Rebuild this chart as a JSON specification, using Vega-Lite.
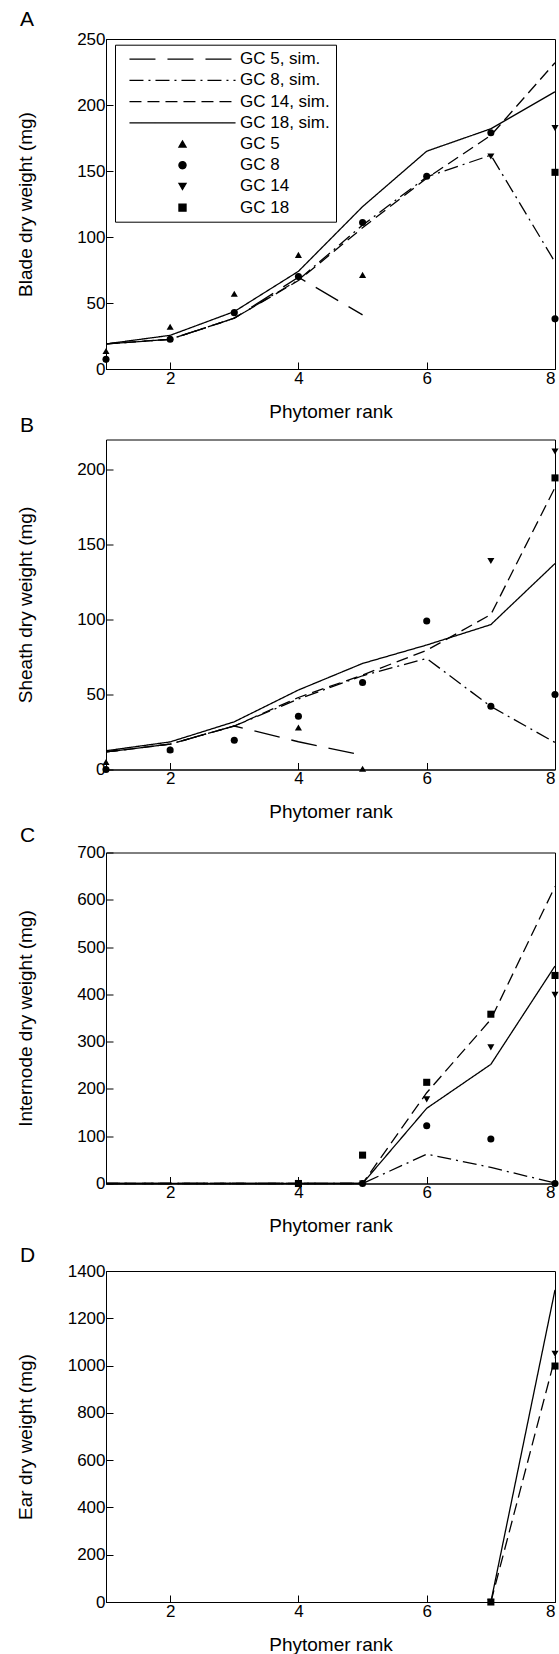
{
  "$schema": "https://vega.github.io/schema/vega-lite/v6.json",
  "padding": {"left": 15, "top": 8, "right": 0, "bottom": 0},
  "datasets": {
    "sim": [
      {"panel": "A", "series": "GC 5, sim.", "rank": 1, "weight": 19},
      {"panel": "A", "series": "GC 5, sim.", "rank": 2, "weight": 22.5},
      {"panel": "A", "series": "GC 5, sim.", "rank": 3, "weight": 38.5},
      {"panel": "A", "series": "GC 5, sim.", "rank": 4, "weight": 69.5},
      {"panel": "A", "series": "GC 5, sim.", "rank": 5, "weight": 41},
      {"panel": "A", "series": "GC 8, sim.", "rank": 1, "weight": 19},
      {"panel": "A", "series": "GC 8, sim.", "rank": 2, "weight": 22.5},
      {"panel": "A", "series": "GC 8, sim.", "rank": 3, "weight": 38.5},
      {"panel": "A", "series": "GC 8, sim.", "rank": 4, "weight": 67.5},
      {"panel": "A", "series": "GC 8, sim.", "rank": 5, "weight": 109},
      {"panel": "A", "series": "GC 8, sim.", "rank": 6, "weight": 145.5},
      {"panel": "A", "series": "GC 8, sim.", "rank": 7, "weight": 162},
      {"panel": "A", "series": "GC 8, sim.", "rank": 8, "weight": 81},
      {"panel": "A", "series": "GC 14, sim.", "rank": 1, "weight": 19},
      {"panel": "A", "series": "GC 14, sim.", "rank": 2, "weight": 22.5},
      {"panel": "A", "series": "GC 14, sim.", "rank": 3, "weight": 38.5},
      {"panel": "A", "series": "GC 14, sim.", "rank": 4, "weight": 67},
      {"panel": "A", "series": "GC 14, sim.", "rank": 5, "weight": 107},
      {"panel": "A", "series": "GC 14, sim.", "rank": 6, "weight": 144.5},
      {"panel": "A", "series": "GC 14, sim.", "rank": 7, "weight": 177},
      {"panel": "A", "series": "GC 14, sim.", "rank": 8, "weight": 232},
      {"panel": "A", "series": "GC 18, sim.", "rank": 1, "weight": 19},
      {"panel": "A", "series": "GC 18, sim.", "rank": 2, "weight": 25.5},
      {"panel": "A", "series": "GC 18, sim.", "rank": 3, "weight": 43.5},
      {"panel": "A", "series": "GC 18, sim.", "rank": 4, "weight": 74},
      {"panel": "A", "series": "GC 18, sim.", "rank": 5, "weight": 123},
      {"panel": "A", "series": "GC 18, sim.", "rank": 6, "weight": 165},
      {"panel": "A", "series": "GC 18, sim.", "rank": 7, "weight": 182},
      {"panel": "A", "series": "GC 18, sim.", "rank": 8, "weight": 210},
      {"panel": "B", "series": "GC 5, sim.", "rank": 1, "weight": 11.7},
      {"panel": "B", "series": "GC 5, sim.", "rank": 2, "weight": 16.9},
      {"panel": "B", "series": "GC 5, sim.", "rank": 3, "weight": 29},
      {"panel": "B", "series": "GC 5, sim.", "rank": 4, "weight": 18.5},
      {"panel": "B", "series": "GC 5, sim.", "rank": 5, "weight": 9.5},
      {"panel": "B", "series": "GC 8, sim.", "rank": 1, "weight": 11.7},
      {"panel": "B", "series": "GC 8, sim.", "rank": 2, "weight": 16.9},
      {"panel": "B", "series": "GC 8, sim.", "rank": 3, "weight": 29},
      {"panel": "B", "series": "GC 8, sim.", "rank": 4, "weight": 47},
      {"panel": "B", "series": "GC 8, sim.", "rank": 5, "weight": 62.5},
      {"panel": "B", "series": "GC 8, sim.", "rank": 6, "weight": 74},
      {"panel": "B", "series": "GC 8, sim.", "rank": 7, "weight": 42},
      {"panel": "B", "series": "GC 8, sim.", "rank": 8, "weight": 18},
      {"panel": "B", "series": "GC 14, sim.", "rank": 1, "weight": 11.7},
      {"panel": "B", "series": "GC 14, sim.", "rank": 2, "weight": 16.9},
      {"panel": "B", "series": "GC 14, sim.", "rank": 3, "weight": 29},
      {"panel": "B", "series": "GC 14, sim.", "rank": 4, "weight": 48},
      {"panel": "B", "series": "GC 14, sim.", "rank": 5, "weight": 63},
      {"panel": "B", "series": "GC 14, sim.", "rank": 6, "weight": 79.5},
      {"panel": "B", "series": "GC 14, sim.", "rank": 7, "weight": 103.3},
      {"panel": "B", "series": "GC 14, sim.", "rank": 8, "weight": 188},
      {"panel": "B", "series": "GC 18, sim.", "rank": 1, "weight": 12.5},
      {"panel": "B", "series": "GC 18, sim.", "rank": 2, "weight": 18.4},
      {"panel": "B", "series": "GC 18, sim.", "rank": 3, "weight": 31.8},
      {"panel": "B", "series": "GC 18, sim.", "rank": 4, "weight": 53},
      {"panel": "B", "series": "GC 18, sim.", "rank": 5, "weight": 70.7},
      {"panel": "B", "series": "GC 18, sim.", "rank": 6, "weight": 83},
      {"panel": "B", "series": "GC 18, sim.", "rank": 7, "weight": 96.6},
      {"panel": "B", "series": "GC 18, sim.", "rank": 8, "weight": 137.3},
      {"panel": "C", "series": "GC 5, sim.", "rank": 1, "weight": 0},
      {"panel": "C", "series": "GC 5, sim.", "rank": 2, "weight": 0},
      {"panel": "C", "series": "GC 5, sim.", "rank": 3, "weight": 0},
      {"panel": "C", "series": "GC 5, sim.", "rank": 4, "weight": 0},
      {"panel": "C", "series": "GC 5, sim.", "rank": 5, "weight": 0},
      {"panel": "C", "series": "GC 8, sim.", "rank": 1, "weight": 0},
      {"panel": "C", "series": "GC 8, sim.", "rank": 2, "weight": 0},
      {"panel": "C", "series": "GC 8, sim.", "rank": 3, "weight": 0},
      {"panel": "C", "series": "GC 8, sim.", "rank": 4, "weight": 0},
      {"panel": "C", "series": "GC 8, sim.", "rank": 5, "weight": 0},
      {"panel": "C", "series": "GC 8, sim.", "rank": 6, "weight": 62},
      {"panel": "C", "series": "GC 8, sim.", "rank": 7, "weight": 34},
      {"panel": "C", "series": "GC 8, sim.", "rank": 8, "weight": 1},
      {"panel": "C", "series": "GC 14, sim.", "rank": 1, "weight": 0},
      {"panel": "C", "series": "GC 14, sim.", "rank": 2, "weight": 0},
      {"panel": "C", "series": "GC 14, sim.", "rank": 3, "weight": 0},
      {"panel": "C", "series": "GC 14, sim.", "rank": 4, "weight": 0},
      {"panel": "C", "series": "GC 14, sim.", "rank": 5, "weight": 0},
      {"panel": "C", "series": "GC 14, sim.", "rank": 6, "weight": 192},
      {"panel": "C", "series": "GC 14, sim.", "rank": 7, "weight": 347},
      {"panel": "C", "series": "GC 14, sim.", "rank": 8, "weight": 628},
      {"panel": "C", "series": "GC 18, sim.", "rank": 1, "weight": 0},
      {"panel": "C", "series": "GC 18, sim.", "rank": 2, "weight": 0},
      {"panel": "C", "series": "GC 18, sim.", "rank": 3, "weight": 0},
      {"panel": "C", "series": "GC 18, sim.", "rank": 4, "weight": 0},
      {"panel": "C", "series": "GC 18, sim.", "rank": 5, "weight": 0},
      {"panel": "C", "series": "GC 18, sim.", "rank": 6, "weight": 159},
      {"panel": "C", "series": "GC 18, sim.", "rank": 7, "weight": 252},
      {"panel": "C", "series": "GC 18, sim.", "rank": 8, "weight": 460},
      {"panel": "D", "series": "GC 14, sim.", "rank": 7, "weight": 0},
      {"panel": "D", "series": "GC 14, sim.", "rank": 8, "weight": 1033},
      {"panel": "D", "series": "GC 18, sim.", "rank": 7, "weight": 0},
      {"panel": "D", "series": "GC 18, sim.", "rank": 8, "weight": 1320}
    ],
    "obs": [
      {"panel": "A", "series": "GC 5", "rank": 1, "weight": 13.6},
      {"panel": "A", "series": "GC 5", "rank": 2, "weight": 32},
      {"panel": "A", "series": "GC 5", "rank": 3, "weight": 57},
      {"panel": "A", "series": "GC 5", "rank": 4, "weight": 86.5},
      {"panel": "A", "series": "GC 5", "rank": 5, "weight": 71.3},
      {"panel": "A", "series": "GC 8", "rank": 1, "weight": 7.3},
      {"panel": "A", "series": "GC 8", "rank": 2, "weight": 22.5},
      {"panel": "A", "series": "GC 8", "rank": 3, "weight": 42.7},
      {"panel": "A", "series": "GC 8", "rank": 4, "weight": 70},
      {"panel": "A", "series": "GC 8", "rank": 5, "weight": 111},
      {"panel": "A", "series": "GC 8", "rank": 6, "weight": 146},
      {"panel": "A", "series": "GC 8", "rank": 7, "weight": 179},
      {"panel": "A", "series": "GC 8", "rank": 8, "weight": 38},
      {"panel": "A", "series": "GC 14", "rank": 7, "weight": 161},
      {"panel": "A", "series": "GC 14", "rank": 8, "weight": 182.5},
      {"panel": "A", "series": "GC 18", "rank": 8, "weight": 149},
      {"panel": "B", "series": "GC 5", "rank": 1, "weight": 5},
      {"panel": "B", "series": "GC 5", "rank": 2, "weight": 13.5},
      {"panel": "B", "series": "GC 5", "rank": 4, "weight": 28},
      {"panel": "B", "series": "GC 5", "rank": 5, "weight": 0.5},
      {"panel": "B", "series": "GC 8", "rank": 1, "weight": 0},
      {"panel": "B", "series": "GC 8", "rank": 2, "weight": 13},
      {"panel": "B", "series": "GC 8", "rank": 3, "weight": 19.5},
      {"panel": "B", "series": "GC 8", "rank": 4, "weight": 35.5},
      {"panel": "B", "series": "GC 8", "rank": 5, "weight": 58},
      {"panel": "B", "series": "GC 8", "rank": 6, "weight": 99},
      {"panel": "B", "series": "GC 8", "rank": 7, "weight": 42.2},
      {"panel": "B", "series": "GC 8", "rank": 8, "weight": 50},
      {"panel": "B", "series": "GC 14", "rank": 7, "weight": 139},
      {"panel": "B", "series": "GC 14", "rank": 8, "weight": 212},
      {"panel": "B", "series": "GC 18", "rank": 8, "weight": 194.4},
      {"panel": "C", "series": "GC 8", "rank": 5, "weight": 0},
      {"panel": "C", "series": "GC 8", "rank": 6, "weight": 122},
      {"panel": "C", "series": "GC 8", "rank": 7, "weight": 94},
      {"panel": "C", "series": "GC 8", "rank": 8, "weight": 0},
      {"panel": "C", "series": "GC 14", "rank": 5, "weight": 0},
      {"panel": "C", "series": "GC 14", "rank": 6, "weight": 178},
      {"panel": "C", "series": "GC 14", "rank": 7, "weight": 288},
      {"panel": "C", "series": "GC 14", "rank": 8, "weight": 399},
      {"panel": "C", "series": "GC 18", "rank": 4, "weight": 0},
      {"panel": "C", "series": "GC 18", "rank": 5, "weight": 60},
      {"panel": "C", "series": "GC 18", "rank": 6, "weight": 214},
      {"panel": "C", "series": "GC 18", "rank": 7, "weight": 358},
      {"panel": "C", "series": "GC 18", "rank": 8, "weight": 440},
      {"panel": "D", "series": "GC 14", "rank": 7, "weight": 0},
      {"panel": "D", "series": "GC 14", "rank": 8, "weight": 1050},
      {"panel": "D", "series": "GC 18", "rank": 7, "weight": 0},
      {"panel": "D", "series": "GC 18", "rank": 8, "weight": 998}
    ]
  },
  "resolve": {"scale": {"shape": "independent", "strokeDash": "independent"}, "legend": {"shape": "independent", "strokeDash": "independent"}},
  "spacing": 2.5,
  "vconcat": [
    {
      "resolve": {"scale": {"shape": "independent", "strokeDash": "independent"}, "legend": {"shape": "independent", "strokeDash": "independent"}},
      "spacing": -8.5,
      "vconcat": [
        {
          "title": {"text": "A", "offset": 0},
          "width": 449, "height": 330,
          "layer": [
            {
              "data": {"name": "sim"},
              "transform": [{"filter": "datum.panel == 'A'"}],
              "mark": {"type": "line", "color": "black", "strokeWidth": 1.3},
              "encoding": {
                "x": {"field": "rank", "type": "quantitative", "scale": {"domain": [1, 8], "nice": false, "zero": false}, "axis": {"values": [2, 4, 6, 8], "format": "d", "title": "Phytomer rank"}},
                "y": {"field": "weight", "type": "quantitative", "scale": {"domain": [0, 250], "nice": false}, "axis": {"values": [0, 50, 100, 150, 200, 250], "format": "d", "title": "Blade dry weight (mg)"}},
                "strokeDash": {"field": "series", "type": "nominal",
                  "scale": {"domain": ["GC 5, sim.", "GC 8, sim.", "GC 14, sim.", "GC 18, sim.", "GC 5", "GC 8", "GC 14", "GC 18"],
                            "range": [[26, 12], [14, 5, 2, 5], [12, 6], [1, 0], [1, 0], [1, 0], [1, 0], [1, 0]]},
                  "legend": {"orient": "none", "legendX": 9, "legendY": 5.7,
                    "encode": {"symbols": {"update": {"stroke": {"value": "black"}, "strokeWidth": {"value": 1.3}, "fill": {"value": "black"}}}}}}
              }
            },
            {
              "data": {"name": "obs"},
              "transform": [{"filter": "datum.panel == 'A'"}],
              "mark": {"type": "point", "filled": true, "color": "black", "size": 50, "opacity": 1},
              "encoding": {
                "x": {"field": "rank", "type": "quantitative"},
                "y": {"field": "weight", "type": "quantitative"},
                "shape": {"field": "series", "type": "nominal",
                  "scale": {"domain": ["GC 5, sim.", "GC 8, sim.", "GC 14, sim.", "GC 18, sim.", "GC 5", "GC 8", "GC 14", "GC 18"],
                            "range": ["M-15,0L15,0", "M-15,0L15,0", "M-15,0L15,0", "M-15,0L15,0", "triangle-up", "circle", "triangle-down", "square"]},
                  "legend": {"orient": "none", "legendX": 9, "legendY": 5.7,
                    "encode": {"symbols": {"update": {"stroke": {"value": "black"}, "strokeWidth": {"value": 1.3}, "fill": {"value": "black"}}}}}}
              }
            }
          ]
        },
        {
          "title": {"text": "B", "offset": 3.6},
          "width": 449, "height": 330,
          "layer": [
            {
              "data": {"name": "sim"},
              "transform": [{"filter": "datum.panel == 'B'"}],
              "mark": {"type": "line", "color": "black", "strokeWidth": 1.3},
              "encoding": {
                "x": {"field": "rank", "type": "quantitative", "scale": {"domain": [1, 8], "nice": false, "zero": false}, "axis": {"values": [2, 4, 6, 8], "format": "d", "title": "Phytomer rank"}},
                "y": {"field": "weight", "type": "quantitative", "scale": {"domain": [0, 220], "nice": false}, "axis": {"values": [0, 50, 100, 150, 200], "format": "d", "title": "Sheath dry weight (mg)"}},
                "strokeDash": {"field": "series", "type": "nominal",
                  "scale": {"domain": ["GC 5, sim.", "GC 8, sim.", "GC 14, sim.", "GC 18, sim."], "range": [[26, 12], [14, 5, 2, 5], [12, 6], [1, 0]]},
                  "legend": null}
              }
            },
            {
              "data": {"name": "obs"},
              "transform": [{"filter": "datum.panel == 'B'"}],
              "mark": {"type": "point", "filled": true, "color": "black", "size": 50, "opacity": 1},
              "encoding": {
                "x": {"field": "rank", "type": "quantitative"},
                "y": {"field": "weight", "type": "quantitative"},
                "shape": {"field": "series", "type": "nominal",
                  "scale": {"domain": ["GC 5", "GC 8", "GC 14", "GC 18"], "range": ["triangle-up", "circle", "triangle-down", "square"]},
                  "legend": null}
              }
            }
          ]
        }
      ]
    },
    {
      "resolve": {"scale": {"shape": "independent", "strokeDash": "independent"}, "legend": {"shape": "independent", "strokeDash": "independent"}},
      "spacing": 7.5,
      "vconcat": [
        {
          "title": {"text": "C", "offset": -2.5},
          "width": 449, "height": 331,
          "layer": [
            {
              "data": {"name": "sim"},
              "transform": [{"filter": "datum.panel == 'C'"}],
              "mark": {"type": "line", "color": "black", "strokeWidth": 1.3},
              "encoding": {
                "x": {"field": "rank", "type": "quantitative", "scale": {"domain": [1, 8], "nice": false, "zero": false}, "axis": {"values": [2, 4, 6, 8], "format": "d", "title": "Phytomer rank"}},
                "y": {"field": "weight", "type": "quantitative", "scale": {"domain": [0, 700], "nice": false}, "axis": {"values": [0, 100, 200, 300, 400, 500, 600, 700], "format": "d", "title": "Internode dry weight (mg)"}},
                "strokeDash": {"field": "series", "type": "nominal",
                  "scale": {"domain": ["GC 5, sim.", "GC 8, sim.", "GC 14, sim.", "GC 18, sim."], "range": [[26, 12], [14, 5, 2, 5], [12, 6], [1, 0]]},
                  "legend": null}
              }
            },
            {
              "data": {"name": "obs"},
              "transform": [{"filter": "datum.panel == 'C'"}],
              "mark": {"type": "point", "filled": true, "color": "black", "size": 50, "opacity": 1},
              "encoding": {
                "x": {"field": "rank", "type": "quantitative"},
                "y": {"field": "weight", "type": "quantitative"},
                "shape": {"field": "series", "type": "nominal",
                  "scale": {"domain": ["GC 5", "GC 8", "GC 14", "GC 18"], "range": ["triangle-up", "circle", "triangle-down", "square"]},
                  "legend": null}
              }
            }
          ]
        },
        {
          "title": {"text": "D", "offset": -4},
          "width": 449, "height": 331,
          "layer": [
            {
              "data": {"name": "sim"},
              "transform": [{"filter": "datum.panel == 'D'"}],
              "mark": {"type": "line", "color": "black", "strokeWidth": 1.3},
              "encoding": {
                "x": {"field": "rank", "type": "quantitative", "scale": {"domain": [1, 8], "nice": false, "zero": false}, "axis": {"values": [2, 4, 6, 8], "format": "d", "title": "Phytomer rank"}},
                "y": {"field": "weight", "type": "quantitative", "scale": {"domain": [0, 1400], "nice": false}, "axis": {"values": [0, 200, 400, 600, 800, 1000, 1200, 1400], "format": "d", "title": "Ear dry weight (mg)"}},
                "strokeDash": {"field": "series", "type": "nominal",
                  "scale": {"domain": ["GC 5, sim.", "GC 8, sim.", "GC 14, sim.", "GC 18, sim."], "range": [[26, 12], [14, 5, 2, 5], [12, 6], [1, 0]]},
                  "legend": null}
              }
            },
            {
              "data": {"name": "obs"},
              "transform": [{"filter": "datum.panel == 'D'"}],
              "mark": {"type": "point", "filled": true, "color": "black", "size": 50, "opacity": 1},
              "encoding": {
                "x": {"field": "rank", "type": "quantitative"},
                "y": {"field": "weight", "type": "quantitative"},
                "shape": {"field": "series", "type": "nominal",
                  "scale": {"domain": ["GC 5", "GC 8", "GC 14", "GC 18"], "range": ["triangle-up", "circle", "triangle-down", "square"]},
                  "legend": null}
              }
            }
          ]
        }
      ]
    }
  ],
  "config": {
    "font": "Liberation Sans",
    "background": "white",
    "view": {"stroke": "black", "strokeWidth": 1},
    "axis": {
      "grid": false,
      "domainColor": "black", "domainWidth": 1,
      "tickColor": "black", "tickWidth": 1, "tickSize": -7,
      "labelColor": "black", "labelFont": "Liberation Sans", "labelFontSize": 17,
      "titleColor": "black", "titleFont": "Liberation Sans", "titleFontSize": 19, "titleFontWeight": "normal"
    },
    "axisX": {"labelPadding": 8, "titleY": 48, "titleBaseline": "alphabetic"},
    "axisY": {"labelPadding": 8, "titleX": -71, "titleBaseline": "bottom"},
    "title": {"font": "Liberation Sans", "fontSize": 21, "fontWeight": "normal", "color": "black", "anchor": "start", "frame": "group", "baseline": "alphabetic", "dx": -86},
    "legend": {
      "title": null,
      "strokeColor": "black", "fillColor": "white", "padding": 6,
      "labelFont": "Liberation Sans", "labelFontSize": 17, "labelColor": "black",
      "symbolSize": 50, "symbolStrokeWidth": 1.3, "symbolFillColor": "black", "symbolStrokeColor": "black",
      "symbolOffset": 53, "labelOffset": 49, "rowPadding": 3.2
    }
  }
}
